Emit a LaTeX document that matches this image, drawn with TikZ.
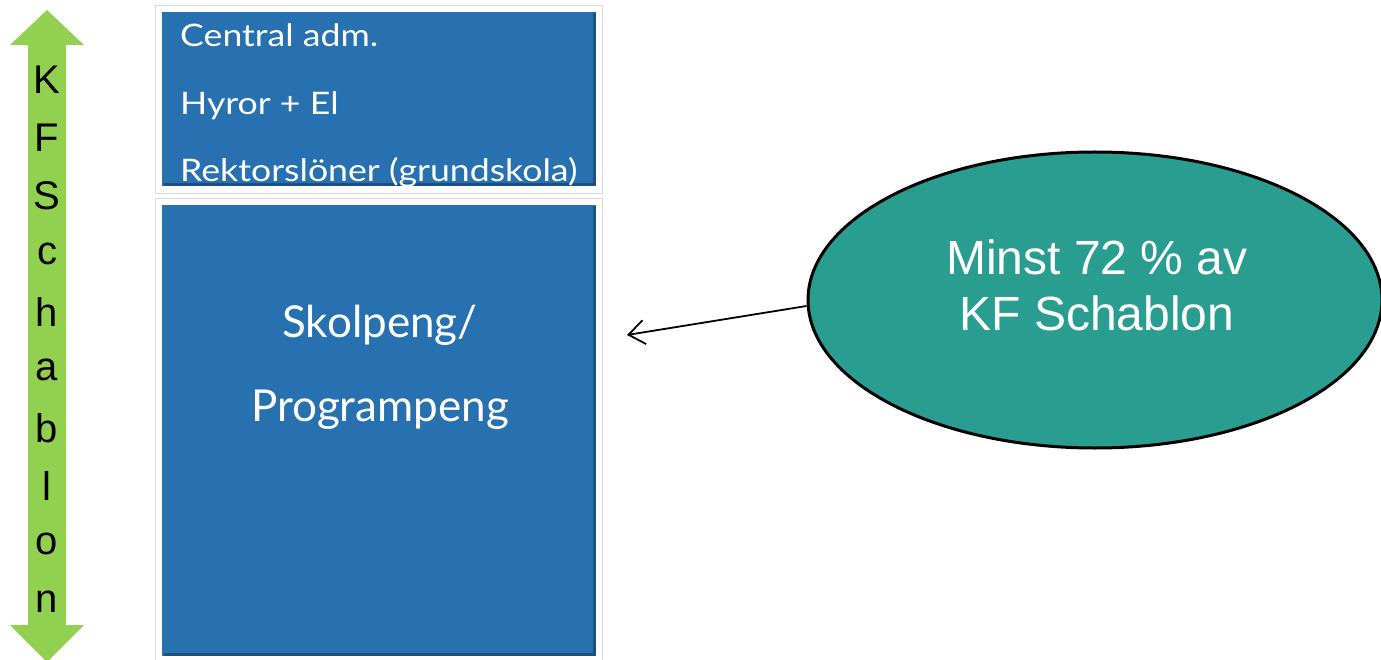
\documentclass[tikz,border=0pt]{standalone}
\usepackage{fontspec}
\setmainfont{Liberation Sans}
\newfontfamily\gill{Lato}
\newfontfamily\gillwide[FakeStretch=1.15]{Lato}
\usetikzlibrary{shapes.geometric,arrows.meta,calc}
\definecolor{kfgreen}{RGB}{146,208,80}
\definecolor{boxblue}{RGB}{40,113,176}
\definecolor{boxdark}{RGB}{28,80,128}
\definecolor{teal}{RGB}{42,157,145}
\tikzset{
  frame/.style={fill=white,draw=black!15,line width=1pt},
  bluebox/.style={fill=boxblue,draw=none},
  bluetext/.style={text=white,font=\gillwide\fontsize{31}{36}\selectfont,anchor=base west,inner sep=0pt},
  bigtext/.style={text=white,font=\gill\fontsize{44}{50}\selectfont,anchor=center,inner sep=0pt},
  letter/.style={font=\fontsize{40}{44}\selectfont,inner sep=0pt,anchor=center},
  ell/.style={ellipse,fill=teal,draw=black,line width=3pt,minimum width=574pt,minimum height=296pt},
  elltext/.style={align=center,text=white,font=\fontsize{48}{56}\selectfont,inner sep=0pt},
  pointer/.style={-{Straight Barb[length=16pt,width=24pt,line width=1.8pt]},line width=1.8pt}
}
\begin{document}
\begin{tikzpicture}[x=1pt,y=-1pt]
\useasboundingbox (0,0) rectangle (1381,660);
% green double arrow
\fill[kfgreen] (47,10) -- (84,45) -- (66,45) -- (66,625) -- (84,625) -- (47,662) -- (10,625) -- (28,625) -- (28,45) -- (10,45) -- cycle;
\foreach \l [count=\i from 0] in {K,F,S,c,h,a,b,l,o,n}{
  \node[letter] (L\i) at (47,{80+\i*58}) {\l};
}
% top box
\node[frame,minimum width=447pt,minimum height=188pt,inner sep=0pt,anchor=north west] (topframe) at (155,5) {};
\node[bluebox,minimum width=434pt,minimum height=174pt,inner sep=0pt,anchor=north west] (topbox) at (162,12) {};
\draw[boxdark,line width=3pt] ($(topbox.south west)+(1.5,-1.5)$) -- ($(topbox.south east)+(-1.5,-1.5)$) -- ($(topbox.north east)+(-1.5,1.5)$);
\node[bluetext] (t1) at (180,47) {Central adm.};
\node[bluetext] (t2) at (180,115) {Hyror + El};
\node[bluetext] (t3) at (180,182) {Rektorslöner (grundskola)};
% bottom box
\node[frame,minimum width=447pt,minimum height=470pt,inner sep=0pt,anchor=north west] (botframe) at (155,198) {};
\node[bluebox,minimum width=434pt,minimum height=451pt,inner sep=0pt,anchor=north west] (botbox) at (162,205) {};
\draw[boxdark,line width=3pt] ($(botbox.south west)+(1.5,-1.5)$) -- ($(botbox.south east)+(-1.5,-1.5)$) -- ($(botbox.north east)+(-1.5,1.5)$);
\node[bigtext] (s1) at (380,325) {Skolpeng/};
\node[bigtext] (s2) at (380,410) {Programpeng};
% ellipse
\node[ell] (ellip) at (1095,300) {};
\node[elltext] (etext) at (1097,285) {Minst 72 \% av\\KF Schablon};
\coordinate (tip) at (627,335);
\coordinate (start) at ($(ellip.west)+(0,6)$);
\draw[pointer] (start) -- (tip);
\end{tikzpicture}
\end{document}
